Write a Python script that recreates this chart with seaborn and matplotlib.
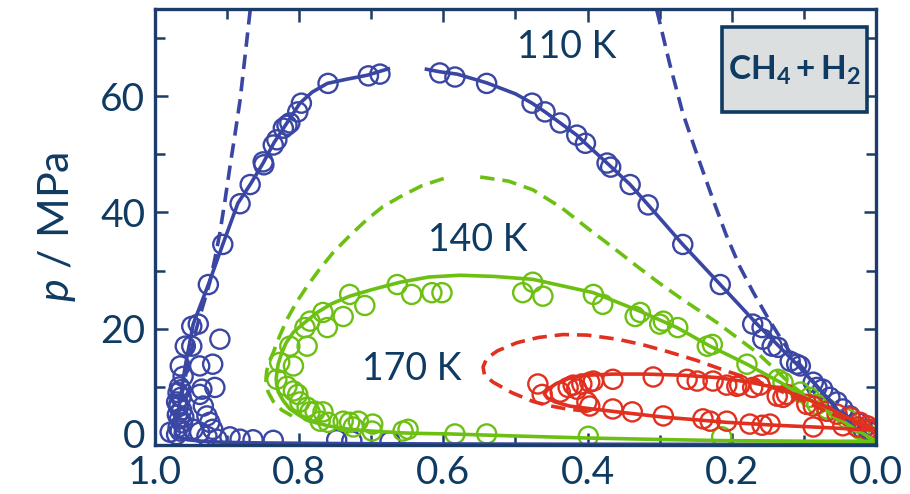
import numpy as np
import pandas as pd
import matplotlib
matplotlib.use("Agg")
import matplotlib.pyplot as plt
import matplotlib.transforms as mtransforms
from matplotlib.patches import Rectangle
from matplotlib.ticker import MultipleLocator
import seaborn as sns

# ---------------- data ----------------
# 110 K : model (solid), dew branch then bubble branch
t110_dew_x = [0.674, 0.706, 0.735, 0.761, 0.782, 0.799, 0.817, 0.835, 0.850, 0.868, 0.885, 0.906,
              0.926, 0.947, 0.958, 0.965, 0.970, 0.972, 0.968, 0.955, 0.930, 0.900, 0.850, 0.780,
              0.700, 0.600, 0.450, 0.300, 0.150, 0.0]
t110_dew_y = [64.8, 63.6, 62.9, 62.2, 60.7, 58.8, 55.4, 52.0, 48.5, 44.8, 41.6, 34.5,
              27.6, 20.8, 13.6, 7.9, 4.0, 2.0, 1.3, 0.9, 0.6, 0.45, 0.35, 0.28,
              0.22, 0.18, 0.14, 0.12, 0.1, 0.09]
t110_bub_x = [0.626, 0.605, 0.581, 0.540, 0.500, 0.477, 0.459, 0.438, 0.415, 0.403, 0.373, 0.341,
              0.316, 0.268, 0.216, 0.165, 0.110, 0.082, 0.046, 0.020, 0.0]
t110_bub_y = [64.7, 64.2, 63.8, 62.3, 60.4, 58.8, 57.3, 55.4, 53.3, 51.9, 48.5, 44.8,
              41.3, 34.5, 27.6, 20.8, 13.9, 10.1, 5.0, 1.8, 0.09]
# 110 K : second model (dashed)
t110_dl_x = [0.868, 0.875, 0.882, 0.889, 0.896, 0.903, 0.910, 0.917, 0.924, 0.931, 0.938, 0.944,
             0.949, 0.955, 0.960, 0.965]
t110_dl_y = [74.8, 67.0, 59.3, 53.5, 47.9, 42.0, 36.5, 32.0, 28.0, 25.0, 22.1, 19.3,
             16.5, 13.5, 10.5, 7.0]
t110_dr_x = [0.304, 0.286, 0.268, 0.247, 0.226, 0.208, 0.189, 0.170, 0.151, 0.135, 0.119, 0.100,
             0.082, 0.060, 0.036, 0.015, 0.0]
t110_dr_y = [74.8, 65.5, 57.1, 49.5, 42.2, 36.2, 30.7, 26.2, 22.1, 18.9, 15.9, 13.0,
             10.1, 7.2, 4.5, 2.0, 0.1]
# 110 K : measurements
t110_px = [0.760, 0.704, 0.688, 0.797, 0.802, 0.813, 0.822, 0.817, 0.831, 0.836, 0.850, 0.849,
           0.868, 0.882, 0.906, 0.926, 0.949, 0.940, 0.910, 0.958, 0.949, 0.965, 0.938, 0.920,
           0.961, 0.935, 0.917, 0.938, 0.966, 0.968, 0.964, 0.970, 0.967, 0.963, 0.969, 0.966,
           0.962, 0.968, 0.965, 0.970, 0.964, 0.967, 0.960, 0.933, 0.928, 0.924, 0.920, 0.979,
           0.947, 0.938, 0.928, 0.914, 0.896, 0.882, 0.864, 0.836, 0.748, 0.727, 0.674,
           0.605, 0.584, 0.540, 0.477, 0.459, 0.438, 0.415, 0.403, 0.373, 0.368, 0.341, 0.316,
           0.268, 0.216, 0.171, 0.158, 0.157, 0.144, 0.136, 0.119, 0.110, 0.105, 0.087, 0.082,
           0.074, 0.064, 0.054, 0.046, 0.036, 0.026, 0.018, 0.008]
t110_py = [62.2, 63.5, 63.8, 58.8, 57.3, 55.4, 54.5, 55.0, 52.5, 51.6, 48.7, 48.2,
           44.8, 41.5, 34.5, 27.6, 20.4, 20.8, 18.2, 17.0, 17.0, 13.6, 13.6, 13.9,
           11.8, 9.6, 9.9, 8.7, 10.0, 9.0, 8.2, 7.4, 6.6, 6.0, 5.2, 4.5,
           3.8, 3.0, 2.4, 1.8, 9.5, 7.0, 4.8, 6.7, 5.0, 3.9, 2.7, 2.2,
           2.7, 2.2, 1.5, 1.0, 1.4, 1.0, 0.9, 0.8, 0.9, 0.7, 0.6,
           64.0, 63.3, 62.2, 58.8, 57.3, 55.4, 53.3, 51.9, 48.5, 47.8, 44.8, 41.3,
           34.5, 27.6, 20.8, 20.2, 18.2, 17.0, 16.8, 14.4, 13.9, 13.6, 10.8, 9.9,
           9.6, 8.2, 7.4, 6.2, 5.0, 3.9, 2.7, 2.2]

# 140 K : model (solid), bubble branch round the nose and back along the dew branch
t140_x = [0.0, 0.036, 0.082, 0.133, 0.179, 0.230, 0.276, 0.327, 0.392, 0.476, 0.530, 0.577,
          0.620, 0.660, 0.700, 0.730, 0.755, 0.775, 0.793, 0.808, 0.818, 0.824, 0.829, 0.831,
          0.832, 0.831, 0.829, 0.822, 0.813, 0.800, 0.785, 0.760, 0.730, 0.700, 0.660, 0.637,
          0.590, 0.500, 0.400, 0.300, 0.210, 0.100, 0.0]
t140_y = [0.64, 3.3, 7.0, 10.8, 13.9, 17.0, 20.2, 23.0, 26.2, 28.5, 29.0, 29.2,
          28.9, 28.0, 26.7, 25.6, 24.3, 22.8, 21.0, 19.4, 17.6, 15.9, 14.0, 12.5,
          11.3, 10.2, 9.1, 7.6, 6.2, 5.1, 4.1, 3.3, 2.7, 2.4, 2.1, 2.0,
          1.9, 1.55, 1.2, 0.95, 0.75, 0.65, 0.64]
# 140 K : second model (dashed)
t140_dl_x = [0.810, 0.824, 0.836, 0.843, 0.846, 0.846, 0.845, 0.841, 0.836, 0.828, 0.817, 0.804,
             0.789, 0.772, 0.753, 0.730, 0.706, 0.684, 0.660, 0.630, 0.591]
t140_dl_y = [5.0, 6.0, 7.5, 9.1, 10.5, 11.5, 12.8, 14.5, 15.9, 18.5, 21.6, 24.5,
             27.3, 30.2, 33.1, 36.0, 38.8, 41.0, 42.7, 44.6, 46.2]
t140_dr_x = [0.549, 0.510, 0.476, 0.436, 0.397, 0.364, 0.331, 0.300, 0.268, 0.245, 0.221, 0.193,
             0.165, 0.140, 0.115, 0.088, 0.060, 0.030, 0.0]
t140_dr_y = [46.1, 45.4, 43.9, 40.8, 37.0, 33.9, 30.7, 27.8, 25.0, 23.1, 21.1, 18.5,
             15.9, 13.0, 10.1, 7.5, 5.0, 2.5, 0.64]
# 140 K : measurements
t140_px = [0.664, 0.644, 0.616, 0.602, 0.730, 0.709, 0.767, 0.739, 0.785, 0.792, 0.761, 0.789,
           0.813, 0.808, 0.827, 0.831, 0.817, 0.808, 0.802, 0.799, 0.789, 0.785, 0.778, 0.767,
           0.771, 0.760, 0.739, 0.730, 0.718, 0.725, 0.698, 0.699, 0.656, 0.649, 0.584,
           0.540, 0.399, 0.214,
           0.476, 0.490, 0.462, 0.392, 0.379, 0.327, 0.334, 0.295, 0.300, 0.275, 0.234, 0.227,
           0.179, 0.136, 0.129, 0.105, 0.092, 0.082, 0.068, 0.040, 0.022, 0.008]
t140_py = [27.6, 25.9, 26.2, 26.2, 25.9, 24.0, 22.8, 22.1, 21.3, 20.2, 20.2, 17.0,
           17.0, 13.6, 14.2, 11.3, 10.1, 9.3, 8.7, 7.4, 6.5, 5.7, 5.8, 5.7,
           4.1, 3.9, 4.1, 3.9, 4.1, 3.1, 3.6, 2.4, 2.4, 2.7, 1.9,
           1.9, 1.5, 1.4,
           28.0, 26.2, 25.6, 25.9, 24.2, 22.8, 22.1, 21.3, 20.8, 20.2, 17.0, 17.3,
           13.9, 11.3, 10.8, 9.1, 8.2, 7.0, 6.2, 4.5, 2.7, 1.5]

# 170 K : model (solid)
t170_x = [0.0, 0.012, 0.036, 0.068, 0.105, 0.140, 0.175, 0.220, 0.268, 0.320, 0.365, 0.400,
          0.425, 0.443, 0.455, 0.460, 0.456, 0.445, 0.425, 0.400, 0.359, 0.295, 0.207, 0.140,
          0.087, 0.040, 0.0]
t170_y = [2.6, 3.3, 4.5, 6.5, 8.4, 9.9, 10.8, 11.6, 12.0, 12.2, 12.2, 12.0,
          11.5, 10.6, 9.6, 8.8, 8.1, 7.4, 6.7, 6.3, 5.7, 4.8, 3.9, 3.4,
          3.1, 2.8, 2.5]
# 170 K : second model (dashed)
t170_d_x = [0.400, 0.429, 0.455, 0.476, 0.505, 0.531, 0.543, 0.545, 0.540, 0.525, 0.498, 0.468,
            0.434, 0.400, 0.359, 0.325, 0.290, 0.250, 0.207, 0.170, 0.147, 0.120, 0.090, 0.060,
            0.030, 0.0]
t170_d_y = [5.8, 6.2, 6.8, 7.5, 9.0, 10.8, 12.0, 13.4, 14.9, 16.2, 17.6, 18.5,
            19.0, 18.9, 18.2, 17.3, 16.1, 14.6, 12.7, 11.2, 10.1, 8.6, 7.0, 5.3,
            3.8, 2.5]
# 170 K : measurements
t170_px = [0.469, 0.463, 0.438, 0.427, 0.420, 0.415, 0.408, 0.397, 0.392, 0.365, 0.309, 0.262,
           0.248, 0.226, 0.207, 0.193, 0.189, 0.171, 0.161, 0.137, 0.129, 0.124, 0.096, 0.087,
           0.068, 0.054, 0.036, 0.022, 0.012, 0.006,
           0.401, 0.397, 0.365, 0.338, 0.295, 0.240, 0.230, 0.207, 0.175, 0.158, 0.147, 0.087,
           0.046, 0.026, 0.012]
t170_py = [10.5, 8.7, 9.1, 9.9, 10.3, 9.6, 10.5, 10.8, 11.0, 11.3, 11.7, 11.3,
           11.0, 11.0, 10.3, 10.1, 10.3, 9.9, 10.3, 8.4, 8.2, 8.7, 7.0, 6.7,
           5.8, 5.3, 4.8, 3.9, 3.3, 2.7,
           7.4, 6.7, 6.2, 5.7, 5.0, 4.5, 4.1, 4.1, 3.6, 3.4, 3.6, 3.1,
           3.3, 3.1, 2.7]

temp_labels = ["110 K", "140 K", "170 K"]
x_ticks = [1.0, 0.8, 0.6, 0.4, 0.2, 0.0]
y_ticks = [0, 20, 40, 60]

# ---------------- style ----------------
NAVY = "#0f3b62"
SPINE = "#1c3c6a"
BLUE = "#3a46a3"
GREEN = "#6cc012"
RED = "#e1301f"

sns.set_theme(style="ticks")
plt.rcParams["font.family"] = ["Lato", "DejaVu Sans"]
plt.rcParams["mathtext.fontset"] = "custom"
plt.rcParams["mathtext.rm"] = "Lato"
plt.rcParams["mathtext.it"] = "Lato:italic"
plt.rcParams["mathtext.bf"] = "Lato:bold"

fig = plt.figure(figsize=(9.1, 4.94), dpi=100)
ax = fig.add_axes([155 / 910, 49 / 494, 721 / 910, 436 / 494])

LW = 2.6
MS = 190
MLW = 1.7
DASH = (4.0, 2.2)


def curve(x, y, color, dashed=False):
    sns.lineplot(x=x, y=y, sort=False, estimator=None, color=color, lw=LW, ax=ax)
    line = ax.lines[-1]
    line.set_solid_capstyle("butt")
    if dashed:
        line.set_dashes(DASH)
        line.set_dash_capstyle("butt")


def points(x, y, color):
    sns.scatterplot(x=x, y=y, marker="o", s=MS, facecolors="none",
                    edgecolors=color, linewidth=MLW, ax=ax)


# 110 K
points(t110_px, t110_py, BLUE)
curve(t110_dew_x, t110_dew_y, BLUE)
curve(t110_bub_x, t110_bub_y, BLUE)
curve(t110_dl_x, t110_dl_y, BLUE, dashed=True)
curve(t110_dr_x, t110_dr_y, BLUE, dashed=True)
# 140 K
points(t140_px, t140_py, GREEN)
curve(t140_x, t140_y, GREEN)
curve(t140_dl_x, t140_dl_y, GREEN, dashed=True)
curve(t140_dr_x, t140_dr_y, GREEN, dashed=True)
# 170 K
points(t170_px, t170_py, RED)
curve(t170_x, t170_y, RED)
curve(t170_d_x, t170_d_y, RED, dashed=True)

# temperature labels
for label, (lx, ly) in zip(temp_labels, [(0.4286, 68.4), (0.553, 35.2), (0.6436, 13.0)]):
    ax.text(lx, ly, label, color=NAVY, fontsize=27, ha="center", va="center")

# system box
ax.add_patch(Rectangle((0.786, 0.764), 0.201, 0.195, transform=ax.transAxes,
                       facecolor="#dcdfe0", edgecolor=NAVY, lw=2.6, zorder=5))
ax.text(0.887, 0.858, r"$\mathbf{CH_4 + H_2}$", transform=ax.transAxes, color=NAVY,
        fontsize=24, ha="center", va="center", zorder=6)

# axes
ax.set_xlim(1.0, 0.0)
ax.set_ylim(0, 75)
ax.set_xticks(x_ticks)
ax.set_xticklabels([f"{v:.1f}" for v in x_ticks])
ax.set_yticks(y_ticks)
ax.xaxis.set_minor_locator(MultipleLocator(0.1))
ax.yaxis.set_minor_locator(MultipleLocator(10))
ax.set_xlabel("")
ax.set_ylabel(r"$p$ / MPa", color=NAVY, fontsize=31, labelpad=16)

ax.tick_params(which="both", direction="in", top=True, right=True, color=SPINE,
               labelcolor=NAVY, labelsize=28)
ax.tick_params(which="major", length=9, width=1.8, pad=7)
ax.tick_params(which="minor", length=7, width=1.8)
for s in ax.spines.values():
    s.set_color(SPINE)
    s.set_linewidth(2.4)
    s.set_visible(True)

# lift the zero label a little off the corner
lab0 = ax.get_yticklabels()[0]
lab0.set_transform(lab0.get_transform() + mtransforms.ScaledTranslation(0, 8 / 72, fig.dpi_scale_trans))

fig.savefig("out.png", dpi=100, facecolor="white")
